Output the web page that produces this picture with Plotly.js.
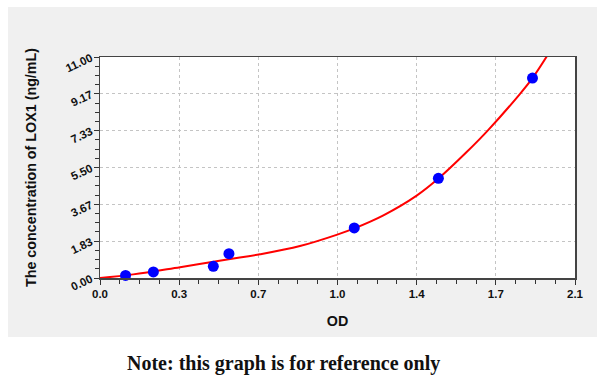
<!DOCTYPE html>
<html>
<head>
<meta charset="utf-8">
<script src="https://cdn.plot.ly/plotly-3.0.1.min.js"></script>
<style>
  html, body { margin: 0; padding: 0; background: #ffffff; }
  #panel { position: absolute; left: 8px; top: 7px; width: 589px; height: 330px; background: #f0f0f0; }
  #chart { position: absolute; left: 0; top: 0; width: 600px; height: 390px; }
</style>
</head>
<body>
<div id="panel"></div>
<div id="chart"></div>
<script>
// Standard points (OD vs concentration)
const pointOD = [0.113, 0.236, 0.501, 0.570, 1.124, 1.496, 1.912];
const pointConc = [0.13, 0.30, 0.58, 1.21, 2.49, 4.96, 9.95];

// Fitted curve
const curveOD = [0, 0.147, 0.354, 0.569, 0.707, 0.884, 1.049, 1.124, 1.253, 1.40, 1.496, 1.621, 1.715, 1.857, 1.912, 1.978];
const curveConc = [0, 0.18, 0.54, 0.93, 1.18, 1.59, 2.16, 2.47, 3.12, 4.10, 4.95, 6.27, 7.35, 9.17, 9.95, 11.08];

// Axis ticks
const xTickVals = [0, 0.35, 0.7, 1.05, 1.4, 1.75, 2.1];
const xTickText = ['0.0', '0.3', '0.7', '1.0', '1.4', '1.7', '2.1'];
const yTickVals = [0, 1.8333, 3.6667, 5.5, 7.3333, 9.1667, 11];
const yTickText = ['0.00', '1.83', '3.67', '5.50', '7.33', '9.17', '11.00'];

const traces = [
  {
    x: curveOD, y: curveConc, type: 'scatter', mode: 'lines',
    line: { color: '#ff0000', width: 2, shape: 'spline', smoothing: 1 },
    hoverinfo: 'skip', showlegend: false
  },
  {
    x: pointOD, y: pointConc, type: 'scatter', mode: 'markers',
    marker: { color: '#0000ff', size: 11 },
    showlegend: false, cliponaxis: false
  }
];

const axisFont = { family: 'Liberation Sans, Arial, sans-serif', size: 11.5, color: '#111111', weight: 'bold' };
const titleFont = { family: 'Liberation Sans, Arial, sans-serif', size: 14.3, color: '#111111', weight: 'bold' };

const layout = {
  width: 600, height: 390,
  margin: { l: 100, r: 25, t: 57, b: 112 },
  paper_bgcolor: 'rgba(0,0,0,0)',
  plot_bgcolor: '#ffffff',
  showlegend: false,
  xaxis: {
    range: [0, 2.1],
    tickmode: 'array', tickvals: xTickVals, ticktext: xTickText,
    ticks: 'outside', ticklen: 5, tickwidth: 1, tickcolor: '#333333',
    minor: { ticks: 'outside', ticklen: 4, tickwidth: 1, tickcolor: '#333333', dtick: 0.0875, tick0: 0, showgrid: false },
    showgrid: true, gridcolor: '#c4c4c4', griddash: 'dot', gridwidth: 1,
    showline: true, linecolor: '#444444', linewidth: 1.5, mirror: true,
    zeroline: false,
    tickfont: axisFont,
    title: { text: 'OD', font: titleFont, standoff: 16 }
  },
  yaxis: {
    range: [0, 11],
    tickmode: 'array', tickvals: yTickVals, ticktext: yTickText,
    tickangle: -25,
    ticks: 'outside', ticklen: 5, tickwidth: 1, tickcolor: '#333333',
    minor: { ticks: 'outside', ticklen: 4, tickwidth: 1, tickcolor: '#333333', dtick: 11/24, tick0: 0, showgrid: false },
    showgrid: true, gridcolor: '#c4c4c4', griddash: 'dot', gridwidth: 1,
    showline: true, linecolor: '#444444', linewidth: 1.5, mirror: true,
    zeroline: false,
    tickfont: axisFont,
    title: { text: 'The concentration of LOX1 (ng/mL)', font: titleFont, standoff: 24 }
  },
  annotations: [
    {
      text: 'Note: this graph is for reference only',
      xref: 'paper', yref: 'paper',
      x: (283.5 - 100) / 475, y: (278 - 363) / 221,
      xanchor: 'center', yanchor: 'middle', showarrow: false,
      font: { family: 'Liberation Serif, DejaVu Serif, serif', size: 20, color: '#111111', weight: 'bold' }
    }
  ]
};

Plotly.newPlot('chart', traces, layout, { displayModeBar: false, staticPlot: true });
</script>
</body>
</html>
